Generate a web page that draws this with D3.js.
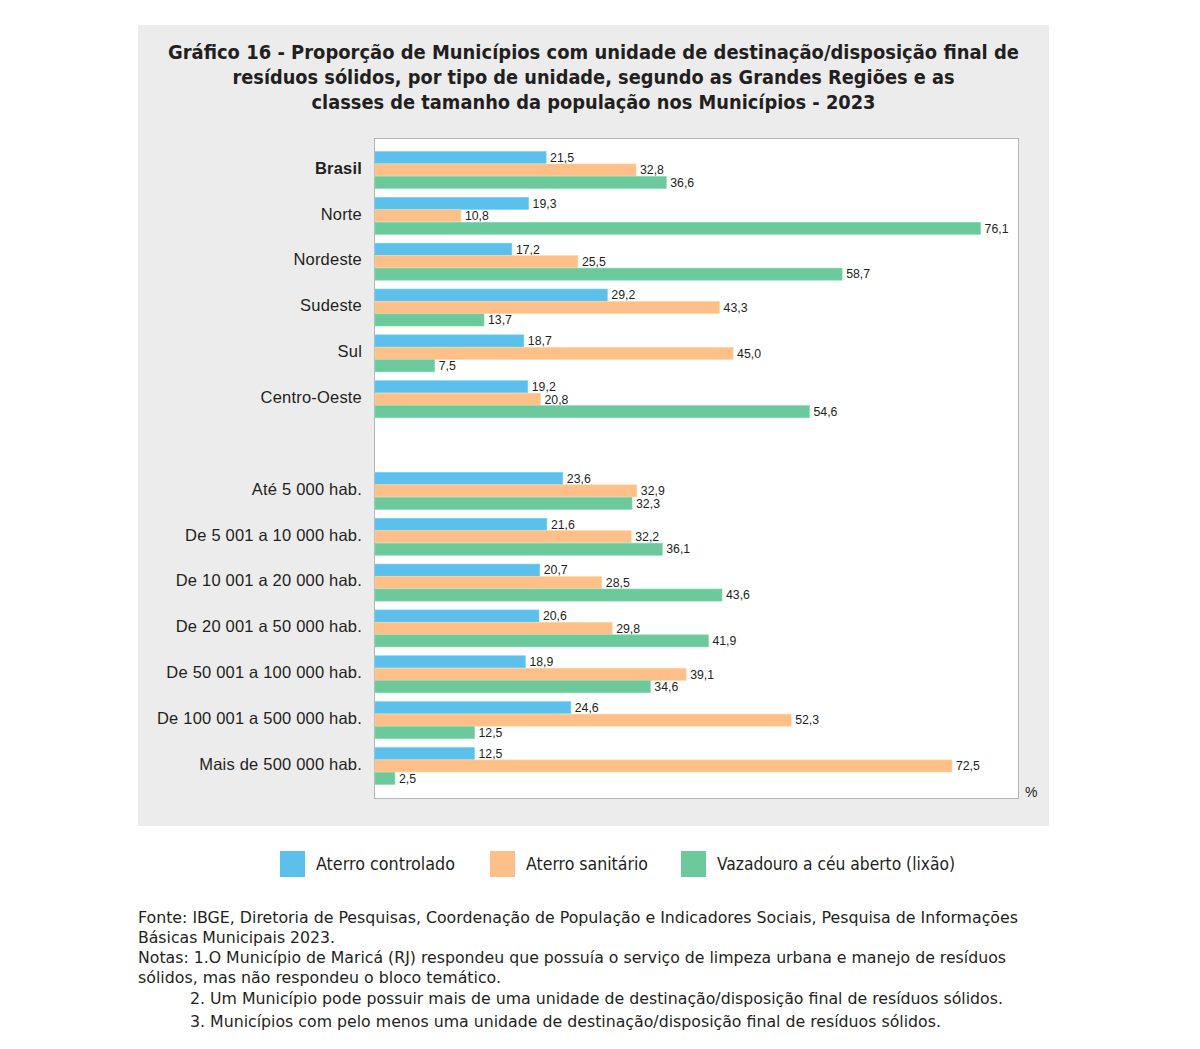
<!DOCTYPE html>
<html><head><meta charset="utf-8">
<script src="https://cdn.jsdelivr.net/npm/d3@7"></script>
<style>
html,body{margin:0;padding:0;background:#fff;}
svg{display:block;}
text{font-family:"Liberation Sans","Helvetica Neue",Arial,sans-serif;fill:#231f20;}
.cond{font-family:"Liberation Sans Narrow","DejaVu Sans Condensed","Liberation Sans",sans-serif;}
</style></head>
<body>
<svg id="chart" width="1200" height="1049"></svg>
<script>
const categories = ["Brasil","Norte","Nordeste","Sudeste","Sul","Centro-Oeste","",
  "Até 5 000 hab.","De 5 001 a 10 000 hab.","De 10 001 a 20 000 hab.","De 20 001 a 50 000 hab.",
  "De 50 001 a 100 000 hab.","De 100 001 a 500 000 hab.","Mais de 500 000 hab."];
const seriesNames = ["Aterro controlado","Aterro sanitário","Vazadouro a céu aberto (lixão)"];
const aterroControlado = [21.5,19.3,17.2,29.2,18.7,19.2,null,23.6,21.6,20.7,20.6,18.9,24.6,12.5];
const aterroSanitario  = [32.8,10.8,25.5,43.3,45.0,20.8,null,32.9,32.2,28.5,29.8,39.1,52.3,72.5];
const vazadouro        = [36.6,76.1,58.7,13.7,7.5,54.6,null,32.3,36.1,43.6,41.9,34.6,12.5,2.5];
const colors = ["#5BC0EB","#FEC088","#6CC99B"];
const titleLines = ["Gráfico 16 - Proporção de Municípios com unidade de destinação/disposição final de",
  "resíduos sólidos, por tipo de unidade, segundo as Grandes Regiões e as",
  "classes de tamanho da população nos Municípios - 2023"];
const notes = [
  "Fonte: IBGE, Diretoria de Pesquisas, Coordenação de População e Indicadores Sociais, Pesquisa de Informações",
  "Básicas Municipais 2023.",
  "Notas: 1.O Município de Maricá (RJ) respondeu que possuía o serviço de limpeza urbana e manejo de resíduos",
  "sólidos, mas não respondeu o bloco temático.",
  "2. Um Município pode possuir mais de uma unidade de destinação/disposição final de resíduos sólidos.",
  "3. Municípios com pelo menos uma unidade de destinação/disposição final de resíduos sólidos."];

const seriesValues = [aterroControlado, aterroSanitario, vazadouro];
const keys = categories.map((c,i)=> c === "" ? "__gap" : c);

const svg = d3.select("#chart");
// panel
svg.append("rect").attr("x",138).attr("y",25).attr("width",911).attr("height",801).attr("fill","#ececec");

// title
const titleW = [851,722,564];
const titleY = [59,84,109];
titleLines.forEach((t,i)=>{
  svg.append("text").attr("class","cond").attr("x",593.5).attr("y",titleY[i])
    .attr("text-anchor","middle").attr("font-size",20).attr("font-weight","bold")
    .attr("textLength",titleW[i]).attr("lengthAdjust","spacingAndGlyphs").text(t);
});

// plot box
svg.append("rect").attr("x",374.5).attr("y",138.5).attr("width",644).attr("height",660)
  .attr("fill","#fff").attr("stroke","#b5b5b5").attr("stroke-width",1);

const x = d3.scaleLinear().domain([0,80.8]).range([375,1018]);
const y0 = d3.scaleBand().domain(keys).range([147.1,788.9]).paddingInner(0).paddingOuter(0);
const y1 = d3.scaleBand().domain(d3.range(3)).range([4.4,41.4]).paddingInner(0.03).paddingOuter(0);

const fmt = v => d3.format(".1f")(v).replace(".",",");

const groups = svg.append("g").selectAll("g").data(keys).join("g")
  .attr("transform", d=>`translate(0,${y0(d)})`);

groups.each(function(k,ci){
  if (k === "__gap") return;
  const g = d3.select(this);
  seriesValues.forEach((vals,si)=>{
    const v = vals[ci];
    g.append("rect").attr("x",x(0)).attr("y",y1(si)).attr("width",x(v)-x(0))
      .attr("height",y1.bandwidth()).attr("fill",colors[si])
      .attr("stroke",d3.color(colors[si]).brighter(0.3)).attr("stroke-width",0.6);
    g.append("text").attr("x",x(v)+4).attr("y",y1(si)+y1.bandwidth()/2)
      .attr("dy","0.35em").attr("font-size",12.3).text(fmt(v));
  });
});

// category labels
svg.append("g").selectAll("text").data(categories.filter(c=>c!=="")).join("text")
  .attr("x",362).attr("y",d=>y0(d)+y0.bandwidth()/2-2).attr("dy","0.35em")
  .attr("text-anchor","end").attr("font-size",16.5).attr("letter-spacing",0.2)
  .attr("font-weight",d=>d==="Brasil"?"bold":"normal").text(d=>d);

// percent
svg.append("text").attr("x",1025).attr("y",797).attr("font-size",14).text("%");

// legend
const legX = [280,490,681];
const legTW = [139,122,238];
seriesNames.forEach((s,i)=>{
  svg.append("rect").attr("x",legX[i]).attr("y",851).attr("width",25).attr("height",26).attr("fill",colors[i]);
  svg.append("text").attr("class","cond").attr("x",legX[i]+36).attr("y",864).attr("dy","0.35em")
    .attr("font-size",17).attr("textLength",legTW[i]).attr("lengthAdjust","spacingAndGlyphs").text(s);
});

// notes
const noteX = [138,138,138,138,190,190];
const noteY = [923,943,963,983,1004,1027];
const noteW = [880,197,868,363,813,751];
notes.forEach((t,i)=>{
  svg.append("text").attr("class","cond").attr("x",noteX[i]).attr("y",noteY[i])
    .attr("font-size",15).attr("textLength",noteW[i]).attr("lengthAdjust","spacingAndGlyphs").text(t);
});
</script>
</body></html>
